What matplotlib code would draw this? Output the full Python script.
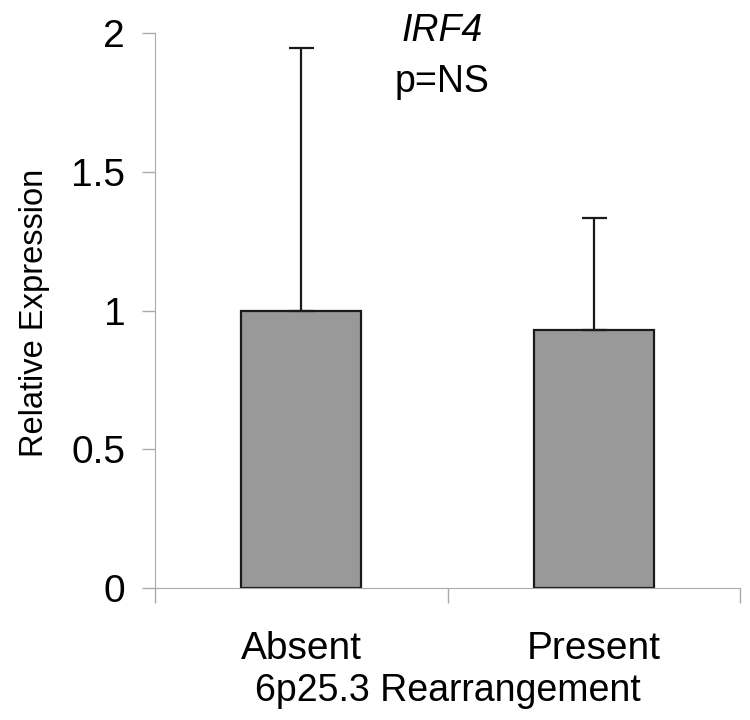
import matplotlib
matplotlib.use("Agg")
import matplotlib.pyplot as plt

categories = ["Absent", "Present"]
means = [1.0, 0.93]
upper_err = [0.946, 0.404]
y_ticks = [0, 0.5, 1, 1.5, 2]
y_tick_labels = ["0", "0.5", "1", "1.5", "2"]

plt.rcParams["font.family"] = ["Liberation Sans", "DejaVu Sans"]

fig = plt.figure(figsize=(7.5, 7.2), dpi=100)
ax = fig.add_axes([0.2067, 0.1833, 0.78, 0.7707])

x = range(len(categories))
ax.bar(x, means, width=0.41, color="#999999", edgecolor="#1a1a1a", linewidth=1.6, zorder=2)
ax.errorbar(x, means, yerr=[[0, 0], upper_err], fmt="none", ecolor="#1a1a1a",
            elinewidth=1.6, capsize=9, capthick=1.6, zorder=3)

ax.set_xlim(-0.5, 1.5)
ax.set_ylim(0, 2)
ax.set_yticks(y_ticks)
ax.set_yticklabels(y_tick_labels, fontsize=28)
ax.set_xticks([-0.5, 0.5, 1.5])
ax.set_xticklabels([])
ax.set_xticks(list(x), minor=True)
ax.set_xticklabels(categories, minor=True, fontsize=28)
ax.tick_params(axis="x", which="minor", length=0, pad=31)
ax.tick_params(axis="x", which="major", length=11, color="#aaaaaa", width=1)
ax.tick_params(axis="y", length=9.5, color="#aaaaaa", width=1, pad=12)

for side in ["top", "right"]:
    ax.spines[side].set_visible(False)
ax.spines["left"].set_color("#aaaaaa")
ax.spines["bottom"].set_color("#aaaaaa")

ax.set_ylabel("Relative Expression", fontsize=23.5)
ax.yaxis.set_label_coords(-0.18, 0.495)
ax.set_xlabel("6p25.3 Rearrangement", fontsize=27, labelpad=4)

fig.text(0.589, 0.943, "IRF4", style="italic", fontsize=27, ha="center", va="baseline")
fig.text(0.589, 0.872, "p=NS", fontsize=27, ha="center", va="baseline")

fig.savefig("out.png", dpi=100)
